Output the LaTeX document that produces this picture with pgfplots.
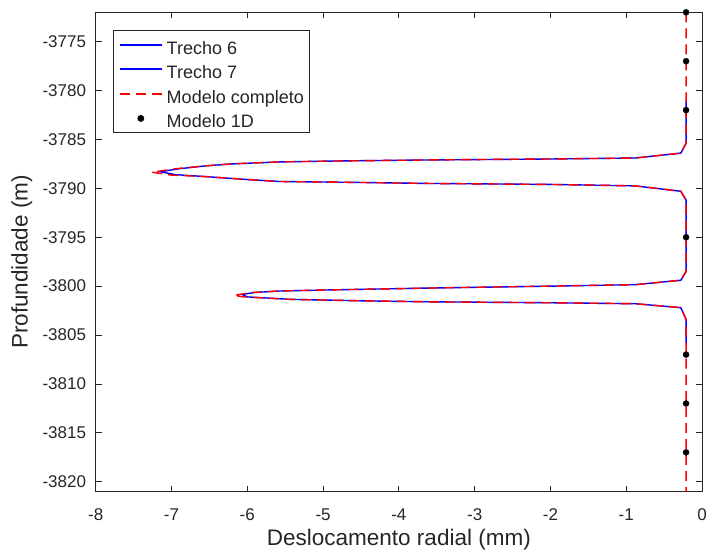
\documentclass[border=0pt]{standalone}
\usepackage{fontspec}
\setmainfont{Liberation Sans}
\usepackage{pgfplots}
\pgfplotsset{compat=1.18}
\definecolor{axgray}{RGB}{38,38,38}
\definecolor{mblue}{RGB}{0,0,255}
\definecolor{mred}{RGB}{255,0,0}

% legend samples 42pt long
\pgfplotsset{
    legend image code/.code = {\draw[#1, line width = 1.8pt] (0pt,0pt) -- (42pt,0pt);},
    dotlegend/.style = {legend image code/.code = {\draw[mark repeat=2, mark phase=2, ##1]
        plot coordinates {(0pt,0pt) (21pt,0pt) (42pt,0pt)};}}
}

\begin{document}
\begin{tikzpicture}
\begin{axis}[
    % size of the plot box
    scale only axis,
    width  = 606pt,
    height = 479pt,
    xmin = -8, xmax = 0,
    ymin = -3821, ymax = -3772,
    xtick = {-8,-7,...,0},
    ytick = {-3820,-3815,...,-3775},
    scaled ticks = false,
    /pgf/number format/assume math mode = true,
    /pgf/number format/1000 sep = {},
    % ticks and frame
    tick align        = inside,
    major tick length = 6pt,
    axis line style   = {axgray, line width = 0.8pt},
    every tick/.style = {axgray, line width = 0.8pt},
    tick label style  = {font = \fontsize{17}{20}\selectfont, text = axgray},
    xticklabel style  = {anchor = center, inner sep = 0pt, yshift = -23pt},
    yticklabel style  = {anchor = east, inner sep = 0pt, xshift = -9.5pt},
    % labels
    xlabel = {Deslocamento radial (mm)},
    ylabel = {Profundidade (m)},
    label style  = {font = \fontsize{22.5}{26}\selectfont, text = axgray},
    xlabel style = {at = {(axis description cs:0.5,-0.100)}, anchor = center},
    ylabel style = {at = {(axis description cs:-0.122,0.479)}, anchor = center},
    % legend
    legend cell align = left,
    legend style = {
        at = {(axis description cs:0.0285,0.963)},
        anchor = north west,
        draw = axgray, line width = 0.8pt, fill = white,
        font = \fontsize{18}{21}\selectfont, text = axgray,
        inner xsep = 5.5pt, inner ysep = 3pt,
        row sep = 1.6pt, column sep = 4pt,
        nodes = {inner sep = 0pt, text height = 20.6pt, text depth = 2.3pt}
    },
    clip = false
]

    % Trecho 6
    \addplot[mblue, line width = 1.4pt] coordinates {
        (-0.21,-3781.0) (-0.21,-3785.4) (-0.28,-3786.4) (-0.88,-3786.9)
        (-2.00,-3787.0) (-3.63,-3787.1) (-4.80,-3787.2) (-5.58,-3787.3)
        (-6.20,-3787.5) (-6.55,-3787.7) (-6.90,-3788.0) (-7.15,-3788.3)
        (-6.95,-3788.6) (-6.55,-3788.8) (-6.00,-3789.1) (-5.58,-3789.3)
        (-4.50,-3789.4) (-3.63,-3789.5) (-2.00,-3789.6) (-0.88,-3789.75)
        (-0.28,-3790.3) (-0.21,-3791.2) (-0.21,-3795.0)
    };
    \addlegendentry{Trecho 6}

    % Trecho 7
    \addplot[mblue, line width = 1.4pt] coordinates {
        (-0.21,-3795.0) (-0.21,-3798.5) (-0.28,-3799.4) (-0.88,-3799.85)
        (-2.00,-3800.0) (-3.63,-3800.2) (-5.00,-3800.4) (-5.58,-3800.5)
        (-5.90,-3800.65) (-6.07,-3800.85) (-6.00,-3801.1) (-5.44,-3801.35)
        (-4.50,-3801.5) (-3.63,-3801.6) (-2.00,-3801.7) (-0.88,-3801.8)
        (-0.28,-3802.2) (-0.21,-3803.4) (-0.21,-3805.8)
    };
    \addlegendentry{Trecho 7}

    % Modelo completo
    \addplot[mred, line width = 1.4pt, dash pattern = on 10pt off 6pt] coordinates {
        (-0.21,-3772.0) (-0.21,-3781.0) (-0.21,-3785.4) (-0.28,-3786.4)
        (-0.88,-3786.9) (-2.00,-3787.0) (-3.63,-3787.1) (-4.80,-3787.2)
        (-5.58,-3787.3) (-6.20,-3787.5) (-6.55,-3787.7) (-6.95,-3788.0)
        (-7.26,-3788.35) (-7.00,-3788.65) (-6.55,-3788.8) (-6.00,-3789.1)
        (-5.58,-3789.3) (-4.50,-3789.4) (-3.63,-3789.5) (-2.00,-3789.6)
        (-0.88,-3789.75) (-0.28,-3790.3) (-0.21,-3791.2) (-0.21,-3795.0)
        (-0.21,-3798.5) (-0.28,-3799.4) (-0.88,-3799.85) (-2.00,-3800.0)
        (-3.63,-3800.2) (-5.00,-3800.4) (-5.58,-3800.5) (-5.95,-3800.65)
        (-6.18,-3800.95) (-6.05,-3801.1) (-5.44,-3801.35) (-4.50,-3801.5)
        (-3.63,-3801.6) (-2.00,-3801.7) (-0.88,-3801.8) (-0.28,-3802.2)
        (-0.21,-3803.4) (-0.21,-3805.8) (-0.21,-3821.0)
    };
    \addlegendentry{Modelo completo}

    % Modelo 1D
    \addplot[only marks, mark = *, mark size = 3pt, black, dotlegend] coordinates {
        (-0.21,-3772) (-0.21,-3777) (-0.21,-3782) (-0.21,-3795)
        (-0.21,-3807) (-0.21,-3812) (-0.21,-3817)
    };
    \addlegendentry{Modelo 1D}
\end{axis}
\path (current axis.south west) ++(-95.7pt,-66.3pt) coordinate (bl);
\path (current axis.north east) ++(6pt,12.3pt) coordinate (tr);
\pgfresetboundingbox
\useasboundingbox (bl) rectangle (tr);
\end{tikzpicture}
\end{document}
